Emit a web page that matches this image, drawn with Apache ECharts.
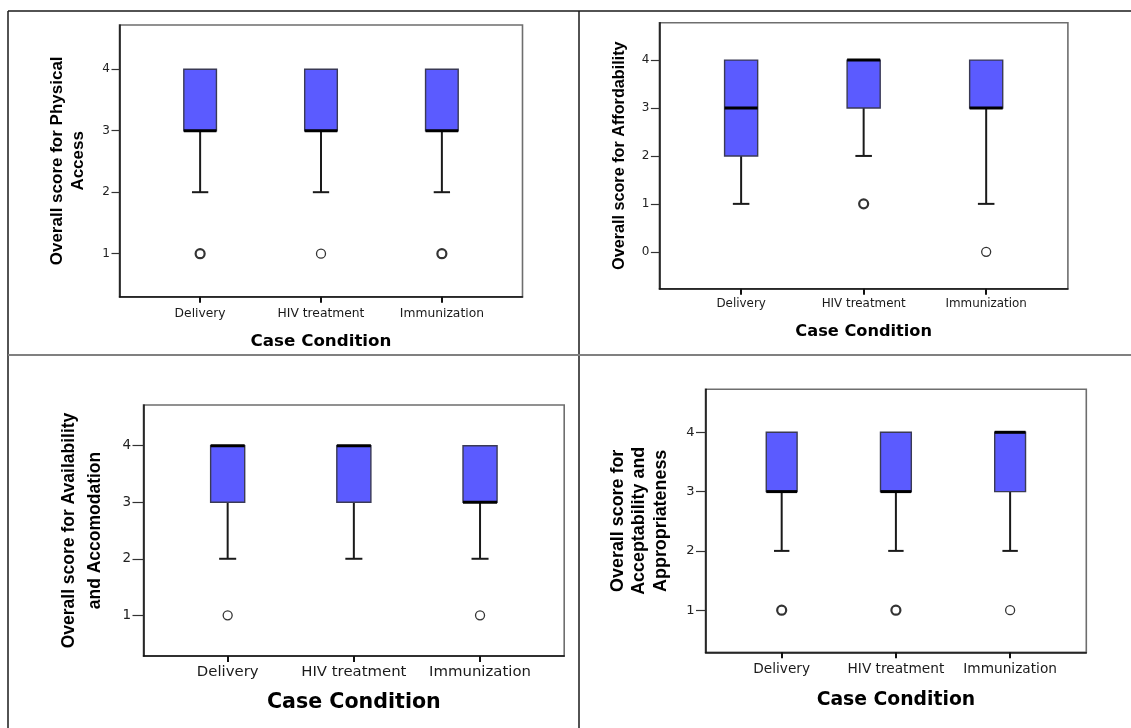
<!DOCTYPE html>
<html>
<head>
<meta charset="utf-8">
<script src="https://cdn.jsdelivr.net/npm/echarts@6/dist/echarts.min.js"></script>
<style>
  html, body { margin: 0; padding: 0; background: #fff; }
  #chart { width: 1131px; height: 728px; }
</style>
</head>
<body>
<div id="chart"></div>
<script>
// ---------------- DATA ----------------
const categories = ['Delivery', 'HIV treatment', 'Immunization'];
const xTitle = 'Case Condition';
const ticks1to4 = [1, 2, 3, 4];
const ticks0to4 = [0, 1, 2, 3, 4];

// box summaries per category: [min, Q1, median, Q3, max]
const physicalBoxes      = [[2, 3, 3, 4, 4], [2, 3, 3, 4, 4], [2, 3, 3, 4, 4]];
const affordabilityBoxes = [[1, 2, 3, 4, 4], [2, 3, 4, 4, 4], [1, 3, 3, 4, 4]];
const availabilityBoxes  = [[2, 3, 4, 4, 4], [2, 3, 4, 4, 4], [2, 3, 3, 4, 4]];
const acceptabilityBoxes = [[2, 3, 3, 4, 4], [2, 3, 3, 4, 4], [2, 3, 4, 4, 4]];

// outliers: [category index, value, overlapping cases]
const physicalOutliers      = [[0, 1, 2], [1, 1, 1], [2, 1, 2]];
const affordabilityOutliers = [[1, 1, 2], [2, 0, 1]];
const availabilityOutliers  = [[0, 1, 1], [2, 1, 1]];
const acceptabilityOutliers = [[0, 1, 2], [1, 1, 2], [2, 1, 1]];

const yTitles = [
  'Overall score for Physical\nAccess',
  'Overall score for Affordability',
  'Overall score for Availability\nand Accomodation',
  'Overall score for\nAcceptability and\nAppropriateness'
];

// ---------------- LAYOUT ----------------
const panels = [
  { grid: { left: 119.5, top: 25, width: 403, height: 271.7 }, y: [0.3, 4.72], ticks: ticks1to4,
    boxes: physicalBoxes, outliers: physicalOutliers, title: yTitles[0],
    tickFs: 12, tickMargin: 9.5, labFs: 12.3, labMargin: 10.5, xtFs: 16.7, xtGap: 37, ytFs: 17, ytLh: 20.5, ytGap: 31 },
  { grid: { left: 659.4, top: 22.7, width: 408.5, height: 266 }, y: [-0.77, 4.78], ticks: ticks0to4,
    boxes: affordabilityBoxes, outliers: affordabilityOutliers, title: yTitles[1],
    tickFs: 12, tickMargin: 10, labFs: 11.9, labMargin: 9.5, xtFs: 16.2, xtGap: 35, ytFs: 16.2, ytLh: 20, ytGap: 30 },
  { grid: { left: 143.5, top: 405, width: 420.7, height: 251 }, y: [0.28, 4.72], ticks: ticks1to4,
    boxes: availabilityBoxes, outliers: availabilityOutliers, title: yTitles[2],
    tickFs: 13.5, tickMargin: 12.5, labFs: 14.9, labMargin: 8.5, xtFs: 20.6, xtGap: 36.5, ytFs: 17.5, ytLh: 25.5, ytGap: 36 },
  { grid: { left: 705.5, top: 389.3, width: 380.8, height: 263 }, y: [0.29, 4.725], ticks: ticks1to4,
    boxes: acceptabilityBoxes, outliers: acceptabilityOutliers, title: yTitles[3],
    tickFs: 13, tickMargin: 11, labFs: 13.7, labMargin: 10.5, xtFs: 18.8, xtGap: 38.5, ytFs: 17.9, ytLh: 21.5, ytGap: 34 }
];

const BOX_W = 0.27;
const FILL = '#5b5bff';

function renderBox(params, api) {
  const x = api.value(0);
  const vMin = api.value(1), vQ1 = api.value(2), vMed = api.value(3), vQ3 = api.value(4), vMax = api.value(5);
  const pMin = api.coord([x, vMin]);
  const pQ1 = api.coord([x, vQ1]);
  const pMed = api.coord([x, vMed]);
  const pQ3 = api.coord([x, vQ3]);
  const pMax = api.coord([x, vMax]);
  const w = api.size([BOX_W, 0])[0];
  const hw = w / 2;
  const cx = pMed[0];
  const children = [];
  const whisk = { stroke: '#1a1a1a', lineWidth: 2 };
  if (vMax > vQ3) {
    children.push({ type: 'line', shape: { x1: cx, y1: pQ3[1], x2: cx, y2: pMax[1] }, style: whisk });
    children.push({ type: 'line', shape: { x1: cx - hw / 2, y1: pMax[1], x2: cx + hw / 2, y2: pMax[1] }, style: whisk });
  }
  if (vMin < vQ1) {
    children.push({ type: 'line', shape: { x1: cx, y1: pQ1[1], x2: cx, y2: pMin[1] }, style: whisk });
    children.push({ type: 'line', shape: { x1: cx - hw / 2, y1: pMin[1], x2: cx + hw / 2, y2: pMin[1] }, style: whisk });
  }
  children.push({ type: 'rect', shape: { x: cx - hw, y: pQ3[1], width: w, height: pQ1[1] - pQ3[1] },
    style: { fill: FILL, stroke: '#3a3a55', lineWidth: 1.4 } });
  children.push({ type: 'line', shape: { x1: cx - hw, y1: pMed[1], x2: cx + hw, y2: pMed[1] },
    style: { stroke: '#000', lineWidth: 3 } });
  return { type: 'group', children };
}

const grids = [], xAxes = [], yAxes = [], series = [];
panels.forEach((p, i) => {
  grids.push(Object.assign({ show: true, borderColor: '#6e6e6e', borderWidth: 1.6, backgroundColor: 'transparent' }, p.grid));
  xAxes.push({
    type: 'value', gridIndex: i, min: -0.667, max: 2.667,
    axisLine: { show: true, onZero: false, lineStyle: { color: '#111', width: 1.5 } },
    axisTick: { show: true, customValues: [0, 1, 2], length: 6, lineStyle: { color: '#111', width: 2 } },
    axisLabel: { show: true, customValues: [0, 1, 2], formatter: v => categories[Math.round(v)],
      fontFamily: 'DejaVu Sans', fontSize: p.labFs, lineHeight: p.labFs, color: '#1a1a1a', margin: p.labMargin },
    splitLine: { show: false },
    name: xTitle, nameLocation: 'middle', nameGap: p.xtGap,
    nameTextStyle: { fontFamily: 'DejaVu Sans', fontWeight: 'bold', fontSize: p.xtFs, lineHeight: p.xtFs, color: '#000' }
  });
  yAxes.push({
    type: 'value', gridIndex: i, min: p.y[0], max: p.y[1],
    axisLine: { show: true, onZero: false, lineStyle: { color: '#111', width: 1.5 } },
    axisTick: { show: true, customValues: p.ticks, length: p.tickMargin - 1.5, lineStyle: { color: '#333', width: 1.2 } },
    axisLabel: { show: true, customValues: p.ticks, fontFamily: 'DejaVu Sans', fontSize: p.tickFs, color: '#222', margin: p.tickMargin },
    splitLine: { show: false },
    name: p.title, nameLocation: 'middle', nameGap: p.ytGap,
    nameTextStyle: { fontFamily: 'Liberation Sans, Arial', fontWeight: 'bold', fontSize: p.ytFs, lineHeight: p.ytLh, color: '#000', align: 'center' }
  });
  series.push({
    type: 'custom', xAxisIndex: i, yAxisIndex: i,
    data: p.boxes.map((b, k) => [k].concat(b)),
    encode: { x: 0, y: [1, 2, 3, 4, 5] },
    renderItem: renderBox, silent: true, animation: false
  });
  series.push({
    type: 'scatter', xAxisIndex: i, yAxisIndex: i, symbol: 'circle', symbolSize: 9,
    data: p.outliers.map(o => ({ value: [o[0], o[1]],
      itemStyle: { color: '#fff', borderColor: '#000', borderWidth: o[2] > 1 ? 2.2 : 1.3 } })),
    silent: true, animation: false
  });
});

const line = (x1, y1, x2, y2, color, w) => ({ type: 'line', silent: true,
  shape: { x1, y1, x2, y2 }, style: { stroke: color, lineWidth: w } });

const chart = echarts.init(document.getElementById('chart'), null, { renderer: 'canvas' });
chart.setOption({
  backgroundColor: '#fff',
  animation: false,
  grid: grids, xAxis: xAxes, yAxis: yAxes, series,
  graphic: [
    line(8, 11, 1131, 11, '#1a1a1a', 1.5),
    line(8, 11, 8, 728, '#1a1a1a', 1.5),
    line(579, 11, 579, 728, '#1a1a1a', 1.5),
    line(8, 355, 1131, 355, '#808080', 2)
  ]
});
</script>
</body>
</html>
